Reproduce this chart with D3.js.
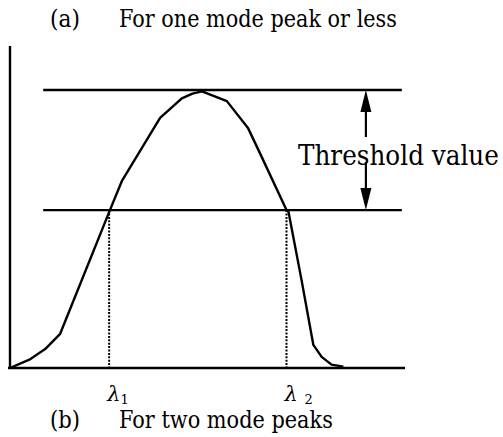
<!DOCTYPE html>
<html>
<head>
<meta charset="utf-8">
<script src="https://cdn.jsdelivr.net/npm/d3@7"></script>
<style>
  html, body { margin: 0; padding: 0; background: #fff; }
  svg { display: block; }
  svg text { fill: #000; }
</style>
</head>
<body>
<svg id="chart" width="503" height="437"></svg>
<script>
// Spectrum profile (relative wavelength, normalised intensity)
const wavelength = [0, 4.9, 8.9, 12.7, 25.3, 28.3, 38.0, 43.5, 46.2, 48.6, 54.9, 60.3, 63.3, 70.0, 70.5, 73.8, 76.8, 78.9, 81.4, 84.4];
const intensity  = [0, 0.030, 0.068, 0.123, 0.568, 0.672, 0.900, 0.970, 0.987, 0.995, 0.960, 0.862, 0.772, 0.568, 0.562, 0.317, 0.083, 0.040, 0.012, 0.005];

// Reference levels: peak level and threshold level
const levels = [1.0, 0.568];
const levelSpan = [8.4, 99.2];
// Crossing wavelengths of the threshold level
const lambdaX = [25.1, 70.0];
const lambdaLabels = [["λ", "1"], ["λ ", "2"]];
const arrowX = 90.1;
const axisTop = 1.158;
const axisRight = 100;

const titleTop = ["(a)", "For one mode peak or less"];
const titleBottom = ["(b)", "For two mode peaks"];
const thresholdLabel = "Threshold value";

const svg = d3.select("#chart");
const x = d3.scaleLinear().domain([0, 100]).range([10, 405]);
const y = d3.scaleLinear().domain([0, 1]).range([368, 90]);

const serif = "DejaVu Serif";

// Place a text at (tx, ty) and squeeze it horizontally to the given width
function fitText(str, tx, ty, size, width) {
  const t = svg.append("text")
    .attr("x", 0).attr("y", 0)
    .attr("font-family", serif).attr("font-size", size)
    .text(str);
  const w = t.node().getComputedTextLength();
  const sx = width ? width / w : 1;
  t.attr("transform", `translate(${tx},${ty}) scale(${sx},1)`);
  return t;
}

// Axes (plain lines, no ticks)
svg.append("line")
  .attr("x1", x(0)).attr("x2", x(0))
  .attr("y1", y(0)).attr("y2", y(axisTop))
  .attr("stroke", "#000").attr("stroke-width", 2.4);
svg.append("line")
  .attr("x1", x(0) - 2).attr("x2", x(axisRight))
  .attr("y1", y(0)).attr("y2", y(0))
  .attr("stroke", "#000").attr("stroke-width", 2.6);

// Peak and threshold levels
svg.selectAll("line.level").data(levels).enter().append("line")
  .attr("class", "level")
  .attr("x1", x(levelSpan[0])).attr("x2", x(levelSpan[1]))
  .attr("y1", d => y(d)).attr("y2", d => y(d))
  .attr("stroke", "#000").attr("stroke-width", 2.4);

// Dotted drop lines at the crossings
svg.selectAll("line.drop").data(lambdaX).enter().append("line")
  .attr("class", "drop")
  .attr("x1", d => x(d)).attr("x2", d => x(d))
  .attr("y1", y(levels[1])).attr("y2", y(0))
  .attr("stroke", "#000").attr("stroke-width", 2)
  .attr("stroke-dasharray", "2,1.4");

// Spectrum curve
const pts = wavelength.map((w, i) => [w, intensity[i]]);
svg.append("path")
  .attr("d", d3.line().x(d => x(d[0])).y(d => y(d[1]))(pts))
  .attr("fill", "none").attr("stroke", "#000")
  .attr("stroke-width", 2.4).attr("stroke-linejoin", "round");

// Double arrow between the two levels
const ax = x(arrowX);
const headLen = 22, headHalf = 5.5;
const yTopLevel = y(levels[0]), yLowLevel = y(levels[1]);
svg.append("line")
  .attr("x1", ax).attr("x2", ax)
  .attr("y1", yTopLevel + headLen - 1).attr("y2", 137)
  .attr("stroke", "#000").attr("stroke-width", 2.2);
svg.append("line")
  .attr("x1", ax).attr("x2", ax)
  .attr("y1", 162).attr("y2", yLowLevel - headLen + 1)
  .attr("stroke", "#000").attr("stroke-width", 2.2);
svg.append("path")
  .attr("d", `M${ax},${yTopLevel} L${ax - headHalf},${yTopLevel + headLen} L${ax + headHalf},${yTopLevel + headLen} Z`)
  .attr("fill", "#000");
svg.append("path")
  .attr("d", `M${ax},${yLowLevel} L${ax - headHalf},${yLowLevel - headLen} L${ax + headHalf},${yLowLevel - headLen} Z`)
  .attr("fill", "#000");

// Threshold label
fitText(thresholdLabel, 298, 165, 28, 201);

// Lambda labels under the drop lines
lambdaLabels.forEach((lab, i) => {
  const t = svg.append("text")
    .attr("x", x(lambdaX[i]) - 2).attr("y", 401)
    .attr("font-family", serif).attr("font-size", 21);
  t.append("tspan").attr("font-style", "italic").text(lab[0]);
  t.append("tspan").attr("font-size", 13).attr("dy", 3).text(lab[1]);
});

// Captions
fitText(titleTop[0], 50, 27, 24, 30);
fitText(titleTop[1], 119, 27, 24, 278);
fitText(titleBottom[0], 50, 428, 24, 30);
fitText(titleBottom[1], 119, 428, 24, 214);
</script>
</body>
</html>
